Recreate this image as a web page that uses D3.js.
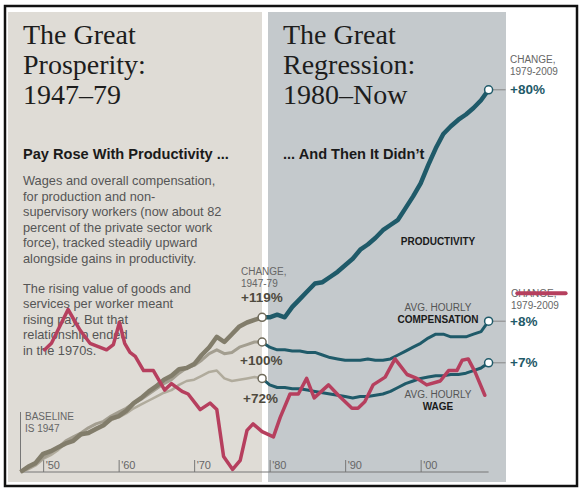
<!DOCTYPE html>
<html>
<head>
<meta charset="utf-8">
<script src="https://cdn.jsdelivr.net/npm/d3@7"></script>
<style>
  body { margin: 0; background: #fff; }
  svg { display: block; }
</style>
</head>
<body>
<div id="chart"></div>
<script>
// values are % change since 1947 (baseline = 0)
const years = d3.range(1947, 2010);

const productivity = [
  0, 4, 7, 14, 16, 19, 22, 24, 29, 30, 33, 36, 41, 43, 47, 53, 57, 62, 66, 71, 74, 79, 80, 83, 90, 96, 104, 100, 106, 112, 115, 117, 119,
  119, 121, 119, 127, 133, 139, 145, 146, 150, 154, 159, 164, 171, 175, 180, 186, 190, 194, 203, 212, 222, 236, 249, 260, 266, 271, 275, 280, 286, 294
];

const compensation = [
  0, 3, 6, 11, 15, 19, 24, 27, 30, 34, 37, 39, 43, 46, 49, 53, 56, 60, 64, 68, 71, 76, 80, 82, 86, 91, 94, 91, 92, 96, 98, 100, 100,
  96, 94, 94, 93, 93, 92, 92, 90, 88, 87, 86, 86, 86, 87, 86, 86, 87, 90, 93, 96, 99, 103, 106, 106, 104, 104, 104, 106, 108, 116
];

const wage = [
  0, 2, 5, 10, 13, 17, 22, 25, 28, 31, 34, 36, 40, 42, 45, 49, 52, 55, 58, 61, 63, 67, 70, 71, 74, 77, 78, 72, 70, 71, 72, 73, 72,
  67, 65, 65, 64, 64, 63, 62, 61, 60, 59, 58, 57, 58, 58, 59, 60, 62, 65, 68, 70, 72, 73, 74, 74, 75, 75, 76, 78, 80, 84
];

// the red pen stroke drawn over the scan (year, %)
const penYears = [1950.2, 1951.1, 1953.3, 1954.9, 1956.2, 1958.4, 1959.3, 1960.1, 1960.8, 1961.5, 1962.2, 1963.3, 1964.6, 1966.1, 1967.0,
  1968.4, 1969.2, 1970.8, 1972.1, 1973.0, 1973.9, 1975.1, 1976.1, 1977.0, 1977.8, 1979.0, 1980.5, 1981.4, 1982.7, 1983.8, 1984.9,
  1985.9, 1987.8, 1989.1, 1990.9, 1991.7, 1992.6, 1993.7, 1995.3, 1996.6, 1998.2, 1999.5, 2000.8, 2002.6, 2003.7, 2004.8, 2005.5,
  2006.3, 2007.2, 2008.5];
const penValues = [94, 99, 125, 109, 99, 94, 98, 115, 99, 92, 89, 78, 78, 63, 68,
  62, 60, 48, 53, 48, 12, 2, 9, 32, 37, 31, 27, 42, 60, 60, 72,
  57, 67, 59, 49, 49, 54, 67, 73, 87, 75, 72, 67, 70,
  78, 78, 86, 87, 77, 59];
// second pen stroke, across the lower "CHANGE," label
const penStrikeYears = [2012.8, 2019.2];
const penStrikeValues = [137.5, 137.5];

const tickYears = [1950, 1960, 1970, 1980, 1990, 2000];
const changeLeft = ["+119%", "+100%", "+72%"];
const changeRight = ["+80%", "+8%", "+7%"];

const W = 584, H = 493;
const svg = d3.select("#chart").append("svg").attr("width", W).attr("height", H);

const x = d3.scaleLinear().domain([1947, 2009]).range([20.5, 488.6]);
const y = d3.scaleLinear().domain([0, 300]).range([472, 82]);

// frame + panels
svg.append("rect").attr("x", 5).attr("y", 6).attr("width", 572).attr("height", 480)
  .attr("fill", "#fff").attr("stroke", "#111").attr("stroke-width", 2.5);
svg.append("rect").attr("x", 8).attr("y", 12).attr("width", 254).attr("height", 470).attr("fill", "#dfdcd6");
svg.append("rect").attr("x", 268).attr("y", 12).attr("width", 238).attr("height", 470).attr("fill", "#c4c9cc");

const serif = "'Liberation Serif', 'DejaVu Serif', serif";
const sans = "'Liberation Sans', Arial, sans-serif";

function lines(g, arr, x0, y0, lh, attrs) {
  arr.forEach((t, i) => {
    const s = g.append("text").attr("x", x0).attr("y", y0 + i * lh).text(t);
    Object.keys(attrs).forEach(k => s.attr(k, attrs[k]));
  });
}

const titleStyle = { "font-family": serif, "font-size": 28, fill: "#1d1d1d" };
lines(svg, ["The Great", "Prosperity:", "1947\u201379"], 23, 44, 30, titleStyle);
lines(svg, ["The Great", "Regression:", "1980\u2013Now"], 283, 44, 30, titleStyle);

const headStyle = { "font-family": sans, "font-size": 14.6, "font-weight": "bold", fill: "#1a1a1a" };
lines(svg, ["Pay Rose With Productivity ..."], 23, 159, 0, headStyle);
lines(svg, ["... And Then It Didn\u2019t"], 283, 159, 0, headStyle);

const bodyStyle = { "font-family": sans, "font-size": 12.8, fill: "#555" };
lines(svg, ["Wages and overall compensation,", "for production and non-", "supervisory workers (now about 82",
  "percent of the private sector work", "force), tracked steadily upward", "alongside gains in productivity."],
  23, 185, 15.6, bodyStyle);
lines(svg, ["The rising value of goods and", "services per worker meant", "rising pay. But that",
  "relationship ended", "in the 1970s."], 23, 293, 15.4, bodyStyle);

// axis
const axis = d3.axisBottom(x).tickValues(tickYears).tickSize(-12)
  .tickFormat(d => "'" + String(d).slice(2));
const ax = svg.append("g").attr("transform", `translate(0,${y(0)})`).call(axis);
ax.select(".domain").attr("stroke", "#777").attr("d", `M${x(1947)},0H${x(2009)}`);
ax.selectAll(".tick line").attr("stroke", "#777");
ax.selectAll(".tick text").attr("x", 2).attr("y", -3).attr("dy", 0)
  .attr("text-anchor", "start").attr("fill", "#666")
  .style("font-family", sans).style("font-size", "11px");

// baseline note
svg.append("line").attr("x1", x(1947)).attr("x2", x(1947)).attr("y1", 412).attr("y2", y(0))
  .attr("stroke", "#777").attr("stroke-width", 1);
lines(svg, ["BASELINE", "IS 1947"], 25, 420, 12, { "font-family": sans, "font-size": 10, fill: "#666" });

const line = d3.line().x(d => x(d[0])).y(d => y(d[1]));
const pts = vals => years.map((yr, i) => [yr, vals[i]]);
const before = vals => pts(vals).filter(d => d[0] <= 1979);
const after = vals => pts(vals).filter(d => d[0] >= 1979);

const series = [
  { vals: wage, early: "#b0ab9c", w1: 2.5, w2: 3 },
  { vals: compensation, early: "#a39e90", w1: 3, w2: 3 },
  { vals: productivity, early: "#827d6b", w1: 4.5, w2: 4.5 }
];
series.forEach(s => {
  svg.append("path").attr("d", line(before(s.vals))).attr("fill", "none")
    .attr("stroke", s.early).attr("stroke-width", s.w1).attr("stroke-linejoin", "round");
  svg.append("path").attr("d", line(after(s.vals))).attr("fill", "none")
    .attr("stroke", "#1f5a69").attr("stroke-width", s.w2).attr("stroke-linejoin", "round");
});

// end connectors + circles
const ends = [productivity, compensation, wage];
ends.forEach(vals => {
  svg.append("line").attr("x1", x(2009)).attr("x2", x(2009) + 17)
    .attr("y1", y(vals[vals.length - 1])).attr("y2", y(vals[vals.length - 1]))
    .attr("stroke", "#888").attr("stroke-width", 1);
});
ends.forEach(vals => {
  [1979, 2009].forEach(yr => {
    svg.append("circle").attr("cx", x(yr)).attr("cy", y(vals[yr - 1947])).attr("r", 4)
      .attr("fill", "#fff").attr("stroke", yr === 1979 ? "#6f6a5a" : "#1f5a69").attr("stroke-width", 1.5);
  });
});

// series labels
const smallStyle = { "font-family": sans, "font-size": 10, fill: "#555", "text-anchor": "middle" };
const boldSmall = { "font-family": sans, "font-size": 10, fill: "#1a1a1a", "font-weight": "bold", "text-anchor": "middle" };
lines(svg, ["PRODUCTIVITY"], 438, 245, 0, boldSmall);
lines(svg, ["AVG. HOURLY"], 438, 311, 0, smallStyle);
lines(svg, ["COMPENSATION"], 438, 323, 0, boldSmall);
lines(svg, ["AVG. HOURLY"], 438, 398, 0, smallStyle);
lines(svg, ["WAGE"], 438, 410, 0, boldSmall);

// change labels
const capStyle = { "font-family": sans, "font-size": 10, fill: "#666" };
lines(svg, ["CHANGE,", "1947-79"], 241, 275, 11.5, capStyle);
const leftBold = { "font-family": sans, "font-size": 13.5, "font-weight": "bold", fill: "#4e4a3e" };
lines(svg, [changeLeft[0]], 241, 302, 0, leftBold);
lines(svg, [changeLeft[1]], 240, 365, 0, leftBold);
lines(svg, [changeLeft[2]], 243, 403, 0, leftBold);

lines(svg, ["CHANGE,", "1979-2009"], 510, 63, 11.5, capStyle);
lines(svg, ["CHANGE,", "1979-2009"], 511, 297, 11.5, capStyle);
const rightBold = { "font-family": sans, "font-size": 13.5, "font-weight": "bold", fill: "#1f5a69" };
ends.forEach((vals, i) => {
  lines(svg, [changeRight[i]], 510, y(vals[vals.length - 1]) + 4.5, 0, rightBold);
});

// red pen overlay
const pen = d3.line().x(d => x(d[0])).y(d => y(d[1]));
svg.append("path").attr("d", pen(penYears.map((yr, i) => [yr, penValues[i]])))
  .attr("fill", "none").attr("stroke", "#b63f5e").attr("stroke-width", 3.5)
  .attr("stroke-linejoin", "round").attr("stroke-linecap", "round");
svg.append("path").attr("d", pen(penStrikeYears.map((yr, i) => [yr, penStrikeValues[i]])))
  .attr("fill", "none").attr("stroke", "#b63f5e").attr("stroke-width", 4).attr("stroke-linecap", "round");
</script>
</body>
</html>
